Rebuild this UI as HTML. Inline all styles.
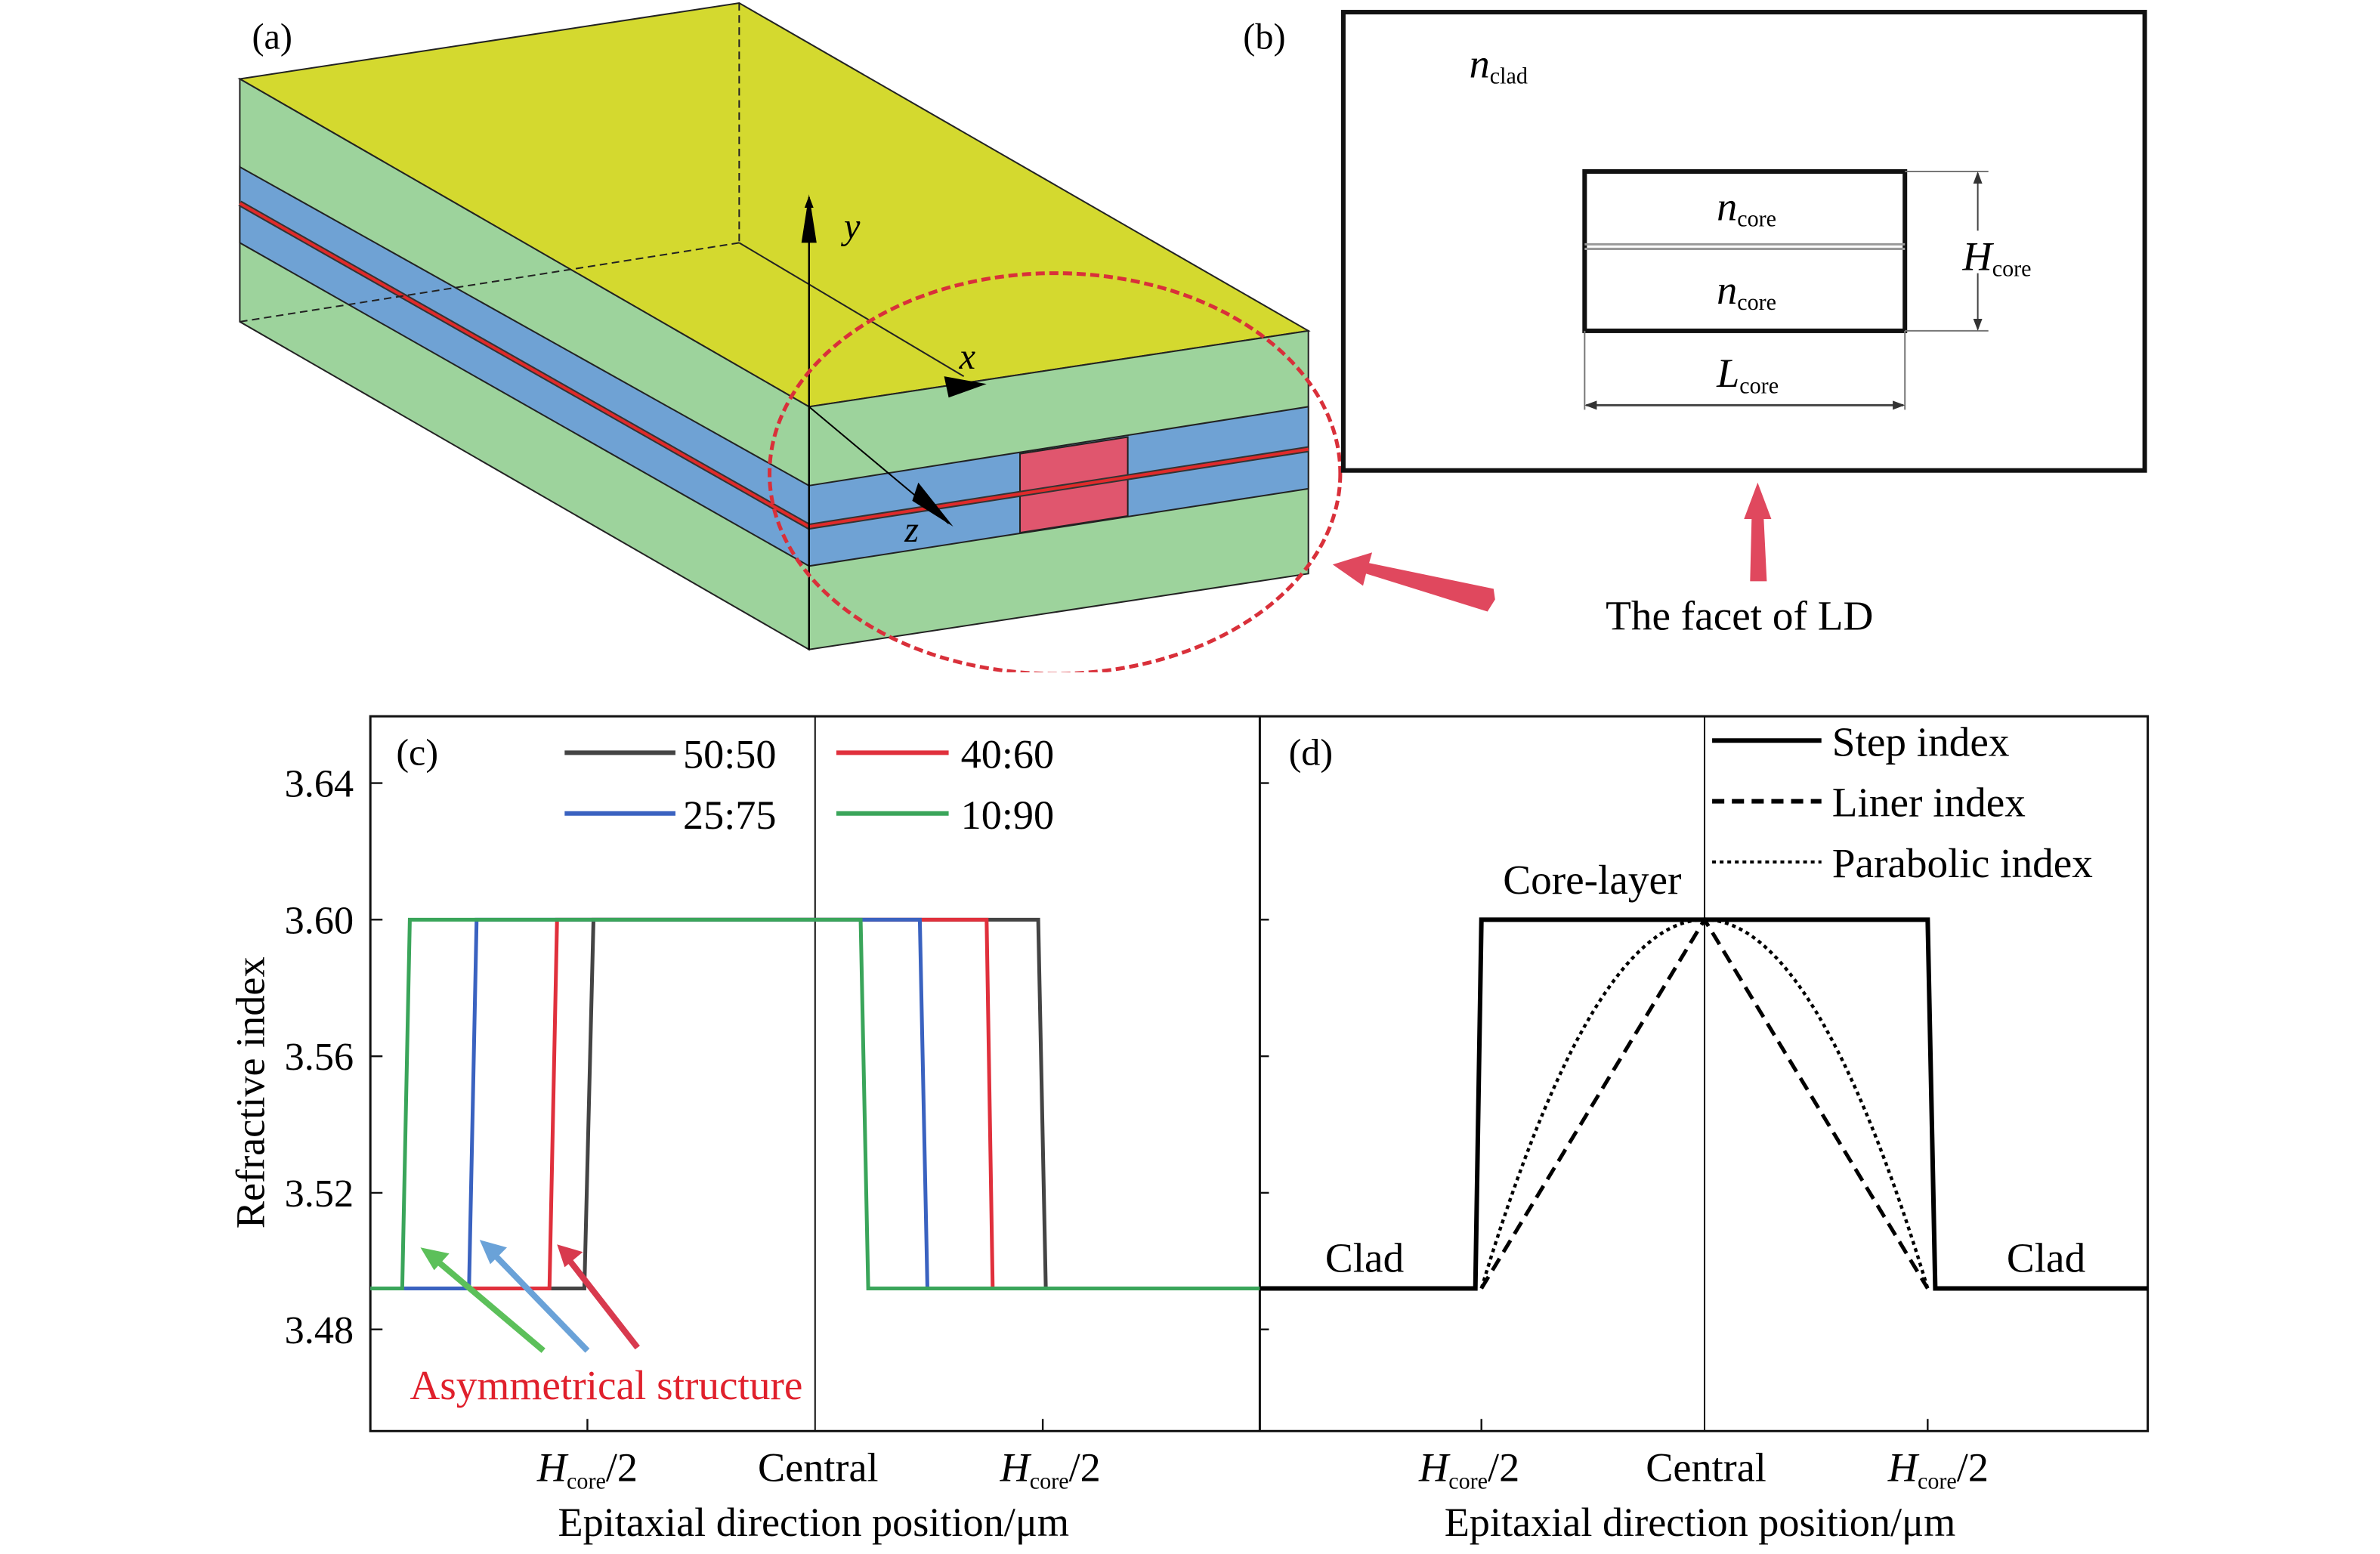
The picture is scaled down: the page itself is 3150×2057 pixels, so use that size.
<!DOCTYPE html>
<html><head><meta charset="utf-8"><style>
html,body{margin:0;padding:0;background:#fff}
svg{display:block}
text{font-family:"Liberation Serif","Times New Roman",serif}
</style></head><body>
<svg width="3150" height="2057" viewBox="0 0 1568 1024" preserveAspectRatio="none" xmlns="http://www.w3.org/2000/svg">
<defs>
<clipPath id="cl"><rect x="0" y="0" width="1552" height="443"/></clipPath>
<marker id="ah" markerWidth="8" markerHeight="8" refX="7" refY="4" orient="auto" markerUnits="userSpaceOnUse"><path d="M0,1 L8,4 L0,7z" fill="#000"/></marker>
<marker id="ah2" markerWidth="8" markerHeight="8" refX="7" refY="4" orient="auto-start-reverse" markerUnits="userSpaceOnUse"><path d="M0,1 L8,4 L0,7z" fill="#333"/></marker>
</defs>
<!-- (a) -->
<text x="166" y="32" font-size="24">(a)</text>
<polygon points="158,52 487,2 862,218 533,268" fill="#d4d92f" stroke="#222" stroke-width="1"/>
<polygon points="158,52 533,268 533,428 158,212" fill="#9dd39c" stroke="#222" stroke-width="1"/>
<polygon points="533,268 862,218 862,378 533,428" fill="#9dd39c" stroke="#222" stroke-width="1"/>
<polygon points="158,110 533,320 533,373 158,160" fill="#6fa2d4" stroke="#222" stroke-width="1"/>
<polygon points="533,320 862,268 862,322 533,373" fill="#6fa2d4" stroke="#222" stroke-width="1"/>
<polygon points="672,299 743,288 743,340 672,351" fill="#e0566e" stroke="#222" stroke-width="1"/>
<polyline points="158,134 533,347 862,296" fill="none" stroke="#333" stroke-width="4"/>
<polyline points="158,134 533,347 862,296" fill="none" stroke="#e02a2a" stroke-width="2"/>
<g stroke="#222" stroke-width="1" stroke-dasharray="5,3" fill="none">
<line x1="487" y1="2" x2="487" y2="160"/><line x1="487" y1="160" x2="158" y2="212"/>
</g>
<line x1="487" y1="160" x2="635" y2="248" stroke="#222" stroke-width="1"/>
<line x1="533" y1="428" x2="533" y2="130" stroke="#000" stroke-width="1.2" marker-end="url(#ah)"/>
<polygon points="533,128 528,160 538,160" fill="#000"/>
<polygon points="650,253 622,248 625,262" fill="#000"/>
<line x1="533" y1="268" x2="625" y2="345" stroke="#000" stroke-width="1"/>
<polygon points="628,347 605,318 601,330" fill="#000"/>
<text x="556" y="157" font-size="24" font-style="italic">y</text>
<text x="632" y="243" font-size="24" font-style="italic">x</text>
<text x="596" y="357" font-size="24" font-style="italic">z</text>
<g clip-path="url(#cl)"><ellipse cx="695" cy="312" rx="188" ry="132" fill="none" stroke="#d9303a" stroke-width="2.5" stroke-dasharray="6,3"/></g>
<path d="M985,395 L980,403 L900,378 L898,386 L878,372 L904,364 L902,371 L984,388z" fill="#e0485e"/>
<!-- (b) -->
<text x="819" y="32" font-size="24">(b)</text>
<rect x="885" y="8" width="528" height="302" fill="none" stroke="#111" stroke-width="3"/>
<text x="968" y="51" font-size="27" font-style="italic">n<tspan font-size="15" font-style="normal" dy="4">clad</tspan></text>
<rect x="1044" y="113" width="211" height="105" fill="none" stroke="#111" stroke-width="3"/>
<line x1="1044" y1="161" x2="1255" y2="161" stroke="#999" stroke-width="1.5"/>
<line x1="1044" y1="164" x2="1255" y2="164" stroke="#999" stroke-width="1.5"/>
<text x="1131" y="145" font-size="27" font-style="italic">n<tspan font-size="15" font-style="normal" dy="4">core</tspan></text>
<text x="1131" y="200" font-size="27" font-style="italic">n<tspan font-size="15" font-style="normal" dy="4">core</tspan></text>
<line x1="1255" y1="113" x2="1310" y2="113" stroke="#777"/><line x1="1255" y1="218" x2="1310" y2="218" stroke="#777"/>
<line x1="1303" y1="114" x2="1303" y2="152" stroke="#444" marker-start="url(#ah2)"/>
<line x1="1303" y1="180" x2="1303" y2="217" stroke="#444" marker-end="url(#ah2)"/>
<text x="1293" y="178" font-size="27" font-style="italic">H<tspan font-size="15" font-style="normal" dy="4">core</tspan></text>
<line x1="1044" y1="218" x2="1044" y2="270" stroke="#777"/><line x1="1255" y1="218" x2="1255" y2="270" stroke="#777"/>
<line x1="1045" y1="267" x2="1254" y2="267" stroke="#444" stroke-width="1.5" marker-start="url(#ah2)" marker-end="url(#ah2)"/>
<text x="1131" y="255" font-size="27" font-style="italic">L<tspan font-size="15" font-style="normal" dy="4">core</tspan></text>
<path d="M1158,318 L1167,342 L1162,342 L1164,383 L1153,383 L1154,342 L1149,342z" fill="#e0485e"/>
<text x="1146" y="415" font-size="27.5" text-anchor="middle">The facet of LD</text>
<!-- (c)(d) frame -->
<rect x="244" y="472" width="1171" height="471" fill="none" stroke="#111" stroke-width="1.5"/>
<line x1="830" y1="472" x2="830" y2="943" stroke="#111" stroke-width="1.5"/>
<line x1="537" y1="472" x2="537" y2="943" stroke="#111" stroke-width="1"/>
<line x1="1123" y1="472" x2="1123" y2="943" stroke="#111" stroke-width="1"/>
<g stroke="#111" stroke-width="1.2">
<line x1="244" y1="516" x2="252" y2="516"/><line x1="244" y1="606" x2="252" y2="606"/><line x1="244" y1="696" x2="252" y2="696"/><line x1="244" y1="786" x2="252" y2="786"/><line x1="244" y1="876" x2="252" y2="876"/>
<line x1="830" y1="516" x2="836" y2="516"/><line x1="830" y1="606" x2="836" y2="606"/><line x1="830" y1="696" x2="836" y2="696"/><line x1="830" y1="786" x2="836" y2="786"/><line x1="830" y1="876" x2="836" y2="876"/>
<line x1="387" y1="943" x2="387" y2="935"/><line x1="687" y1="943" x2="687" y2="935"/><line x1="976" y1="943" x2="976" y2="935"/><line x1="1270" y1="943" x2="1270" y2="935"/>
</g>
<g font-size="26" text-anchor="end">
<text x="233" y="525">3.64</text><text x="233" y="615">3.60</text><text x="233" y="705">3.56</text><text x="233" y="795">3.52</text><text x="233" y="885">3.48</text>
</g>
<text transform="translate(174,720) rotate(-90)" font-size="27" text-anchor="middle">Refractive index</text>
<g font-size="27" text-anchor="middle">
<text x="387" y="976"><tspan font-style="italic">H</tspan><tspan font-size="15" dy="5">core</tspan><tspan dy="-5">/2</tspan></text>
<text x="539" y="976">Central</text>
<text x="692" y="976"><tspan font-style="italic">H</tspan><tspan font-size="15" dy="5">core</tspan><tspan dy="-5">/2</tspan></text>
<text x="968" y="976"><tspan font-style="italic">H</tspan><tspan font-size="15" dy="5">core</tspan><tspan dy="-5">/2</tspan></text>
<text x="1124" y="976">Central</text>
<text x="1277" y="976"><tspan font-style="italic">H</tspan><tspan font-size="15" dy="5">core</tspan><tspan dy="-5">/2</tspan></text>
<text x="536" y="1012">Epitaxial direction position/μm</text>
<text x="1120" y="1012">Epitaxial direction position/μm</text>
</g>
<text x="261" y="504" font-size="25">(c)</text>
<text x="849" y="504" font-size="25">(d)</text>
<!-- (c) data -->
<g fill="none" stroke-width="2.5">
<polyline points="244,849 385,849 391,606 684,606 689,849" stroke="#444"/>
<polyline points="244,849 362,849 367,606 650,606 654,849" stroke="#e0303c"/>
<polyline points="244,849 309,849 314,606 606,606 611,849" stroke="#3a62c0"/>
<polyline points="244,849 265,849 270,606 567,606 572,849 830,849" stroke="#3aa55a"/>
</g>
<g stroke-width="3">
<line x1="372" y1="496" x2="445" y2="496" stroke="#444"/><line x1="551" y1="496" x2="625" y2="496" stroke="#e0303c"/>
<line x1="372" y1="536" x2="445" y2="536" stroke="#3a62c0"/><line x1="551" y1="536" x2="625" y2="536" stroke="#3aa55a"/>
</g>
<g font-size="27"><text x="450" y="506">50:50</text><text x="633" y="506">40:60</text><text x="450" y="546">25:75</text><text x="633" y="546">10:90</text></g>
<g stroke-width="4">
<line x1="358" y1="890" x2="287" y2="830" stroke="#5cc05a"/><polygon points="277,822 296,826 286,837" fill="#5cc05a"/>
<line x1="387" y1="890" x2="324" y2="825" stroke="#6aa2d8"/><polygon points="316,817 334,822 323,833" fill="#6aa2d8"/>
<line x1="420" y1="888" x2="374" y2="829" stroke="#d83a4e"/><polygon points="367,820 384,825 372,835" fill="#d83a4e"/>
</g>
<text x="270" y="922" font-size="27.5" fill="#e0202c">Asymmetrical structure</text>
<!-- (d) data -->
<polyline points="830,849 972,849 976,606 1270,606 1275,849 1415,849" fill="none" stroke="#000" stroke-width="3"/>
<polyline points="976,849 1123,606 1270,849" fill="none" stroke="#000" stroke-width="2.5" stroke-dasharray="9,5"/>
<path d="M976,849 Q1049.5,606 1123,606 Q1196.5,606 1270,849" fill="none" stroke="#000" stroke-width="2.2" stroke-dasharray="2.5,2.5"/>
<line x1="1128" y1="488" x2="1200" y2="488" stroke="#000" stroke-width="3"/>
<line x1="1128" y1="528" x2="1200" y2="528" stroke="#000" stroke-width="3" stroke-dasharray="8,5"/>
<line x1="1128" y1="568" x2="1200" y2="568" stroke="#000" stroke-width="2" stroke-dasharray="2.5,2.5"/>
<g font-size="27.5"><text x="1207" y="498">Step index</text><text x="1207" y="538">Liner index</text><text x="1207" y="578">Parabolic index</text>
<text x="1049" y="589" text-anchor="middle">Core-layer</text>
<text x="899" y="838" text-anchor="middle">Clad</text><text x="1348" y="838" text-anchor="middle">Clad</text></g>
</svg>
</body></html>
